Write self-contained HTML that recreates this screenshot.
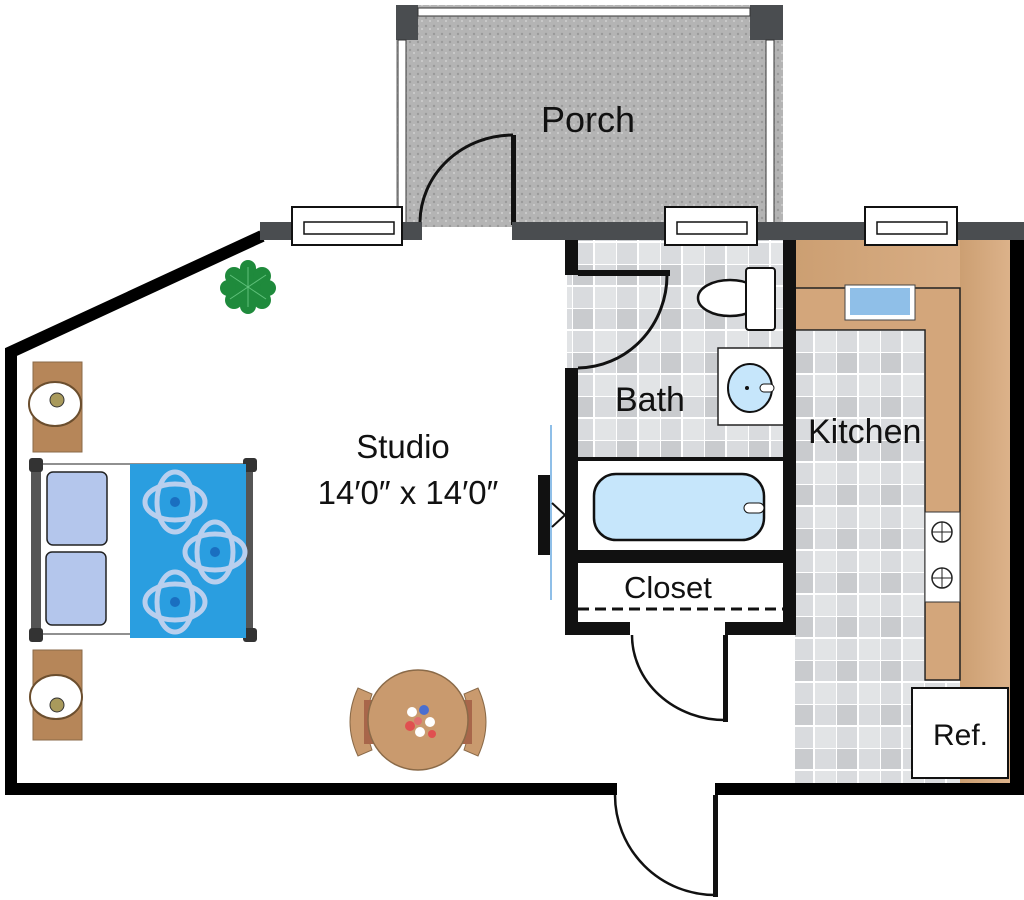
<!DOCTYPE html>
<html><head><meta charset="utf-8"><style>
html,body{margin:0;padding:0;background:#fff;}
svg{display:block;}
text{font-family:"Liberation Sans",sans-serif;fill:#111;}
</style></head><body>
<svg width="1024" height="900" viewBox="0 0 1024 900" xmlns="http://www.w3.org/2000/svg">
<defs>
<pattern id="tile" width="44" height="44" patternUnits="userSpaceOnUse">
<rect width="44" height="44" fill="#d9dbde"/>
<rect x="0" y="0" width="22" height="22" fill="#c9cbce"/>
<rect x="22" y="22" width="22" height="22" fill="#e2e4e6"/>
<path d="M0 0H44M0 22H44M0 0V44M22 0V44" stroke="#fff" stroke-width="2"/>
</pattern>
<pattern id="speck" width="8" height="8" patternUnits="userSpaceOnUse">
<rect width="8" height="8" fill="#b4b4b4"/>
<circle cx="2" cy="2" r="1.2" fill="#9a9a9a"/><circle cx="6" cy="5" r="1" fill="#d0d0d0"/>
</pattern>
<linearGradient id="tan" x1="0" x2="1"><stop offset="0" stop-color="#cc9f72"/><stop offset="1" stop-color="#dcb28a"/></linearGradient>
</defs>

<!-- porch -->
<rect x="396" y="5" width="387" height="222" fill="url(#speck)"/>
<rect x="396" y="5" width="22" height="35" fill="#4a4d50"/>
<rect x="750" y="5" width="33" height="35" fill="#4a4d50"/>
<rect x="418" y="8" width="332" height="8" fill="#fff" stroke="#333" stroke-width="1"/>
<rect x="398" y="40" width="8" height="185" fill="#fff" stroke="#333" stroke-width="1"/>
<rect x="766" y="40" width="8" height="185" fill="#fff" stroke="#333" stroke-width="1"/>
<text x="541" y="132" font-size="36">Porch</text>
<path d="M420 222 A93 88 0 0 1 513 135" fill="none" stroke="#111" stroke-width="3"/>
<rect x="511" y="135" width="5" height="90" fill="#111"/>

<!-- bath floor -->
<rect x="567" y="240" width="220" height="315" fill="url(#tile)"/>
<!-- kitchen floor -->
<rect x="795" y="240" width="215" height="545" fill="url(#tile)"/>
<rect x="795" y="240" width="215" height="48" fill="url(#tan)"/>
<rect x="960" y="240" width="50" height="545" fill="url(#tan)"/>
<rect x="795" y="288" width="165" height="42" fill="#d3a67b"/>
<rect x="925" y="330" width="35" height="350" fill="#d3a67b"/>
<path d="M795 288H960V680H925V330H795" fill="none" stroke="#222" stroke-width="1.5"/>
<rect x="845" y="285" width="70" height="35" fill="#fff" stroke="#444"/>
<rect x="850" y="288" width="60" height="27" fill="#8fbfe8"/>
<rect x="925" y="512" width="35" height="90" fill="#fff" stroke="#333"/>
<circle cx="942" cy="532" r="10" fill="none" stroke="#222" stroke-width="1.5"/>
<circle cx="942" cy="578" r="10" fill="none" stroke="#222" stroke-width="1.5"/>
<path d="M932 532h20M942 522v20M932 578h20M942 568v20" stroke="#222" stroke-width="1"/>
<rect x="912" y="688" width="96" height="90" fill="#fff" stroke="#111" stroke-width="2"/>
<text x="933" y="745" font-size="30">Ref.</text>
<text x="808" y="443" font-size="34">Kitchen</text>

<!-- bath fixtures -->
<ellipse cx="730" cy="298" rx="32" ry="18" fill="#fff" stroke="#111" stroke-width="2.5"/>
<rect x="746" y="268" width="29" height="62" rx="3" fill="#fff" stroke="#111" stroke-width="2"/>
<rect x="718" y="348" width="66" height="77" fill="#fff" stroke="#222" stroke-width="1.5"/>
<ellipse cx="750" cy="388" rx="22" ry="24" fill="#c6e6fb" stroke="#111" stroke-width="2"/>
<circle cx="747" cy="388" r="2" fill="#111"/>
<rect x="760" y="384" width="14" height="8" rx="4" fill="#fff" stroke="#111"/>
<text x="615" y="411" font-size="34">Bath</text>
<rect x="578" y="460" width="209" height="90" fill="#fff"/>
<rect x="594" y="474" width="170" height="66" rx="22" fill="#c6e6fb" stroke="#111" stroke-width="2.5"/>
<rect x="744" y="503" width="20" height="10" rx="5" fill="#fff" stroke="#111"/>
<rect x="565" y="457" width="225" height="4" fill="#111"/>

<!-- closet -->
<rect x="578" y="563" width="209" height="60" fill="#fff"/>
<text x="624" y="598" font-size="31">Closet</text>
<line x1="578" y1="609" x2="787" y2="609" stroke="#111" stroke-width="3" stroke-dasharray="11,6"/>
<rect x="565" y="550" width="230" height="13" fill="#111"/>
<rect x="565" y="622" width="65" height="13" fill="#111"/>
<rect x="725" y="622" width="70" height="13" fill="#111"/>
<path d="M632 635 A93 85 0 0 0 725 720" fill="none" stroke="#111" stroke-width="2.5"/>
<rect x="723" y="635" width="5" height="87" fill="#111"/>

<!-- bath walls -->
<rect x="565" y="240" width="13" height="35" fill="#111"/>
<rect x="565" y="368" width="13" height="267" fill="#111"/>
<rect x="578" y="270" width="92" height="6" fill="#111"/>
<path d="M667 275 A90 93 0 0 1 578 368" fill="none" stroke="#111" stroke-width="3"/>
<rect x="783" y="240" width="13" height="395" fill="#111"/>

<!-- tv / mirror -->
<rect x="538" y="475" width="14" height="80" fill="#111"/>
<line x1="551" y1="425" x2="551" y2="600" stroke="#8fbfe8" stroke-width="2"/>
<path d="M552 503 L565 515 L552 527" fill="none" stroke="#111" stroke-width="2"/>

<!-- outer walls -->
<path d="M11 795 V352 L262 236" fill="none" stroke="#000" stroke-width="12" stroke-linejoin="miter"/>
<rect x="5" y="783" width="612" height="12" fill="#000"/>
<rect x="715" y="783" width="309" height="12" fill="#000"/>
<rect x="1010" y="240" width="14" height="555" fill="#000"/>
<rect x="260" y="222" width="162" height="18" fill="#4a4d50"/>
<rect x="512" y="222" width="512" height="18" fill="#4a4d50"/>
<rect x="292" y="207" width="110" height="38" fill="#fff" stroke="#111" stroke-width="2"/>
<rect x="304" y="222" width="90" height="12" fill="#fff" stroke="#111" stroke-width="1.5"/>
<rect x="665" y="207" width="92" height="38" fill="#fff" stroke="#111" stroke-width="2"/>
<rect x="677" y="222" width="70" height="12" fill="#fff" stroke="#111" stroke-width="1.5"/>
<rect x="865" y="207" width="92" height="38" fill="#fff" stroke="#111" stroke-width="2"/>
<rect x="877" y="222" width="70" height="12" fill="#fff" stroke="#111" stroke-width="1.5"/>

<!-- main door -->
<path d="M615 795 A100 100 0 0 0 715 895" fill="none" stroke="#111" stroke-width="2.5"/>
<rect x="713" y="795" width="5" height="102" fill="#111"/>

<!-- plant -->
<g fill="#1f8a3c">
<circle cx="248" cy="287" r="20"/>
<circle cx="234" cy="276" r="9"/><circle cx="262" cy="276" r="9"/><circle cx="234" cy="300" r="9"/><circle cx="262" cy="300" r="9"/>
<circle cx="248" cy="268" r="8"/><circle cx="248" cy="306" r="8"/><circle cx="228" cy="288" r="8"/><circle cx="268" cy="288" r="8"/>
</g>
<g stroke="#5fc07a" stroke-width="1"><path d="M248 287l-18-12M248 287l18-12M248 287l-18 12M248 287l18 12M248 287v-20M248 287v20"/></g>

<!-- nightstands -->
<rect x="33" y="362" width="49" height="90" fill="#b68659" stroke="#8a6a48"/>
<ellipse cx="55" cy="404" rx="26" ry="22" fill="#fff" stroke="#6b4e2e" stroke-width="2"/>
<circle cx="57" cy="400" r="7" fill="#a99a5c" stroke="#333"/>
<rect x="33" y="650" width="49" height="90" fill="#b68659" stroke="#8a6a48"/>
<ellipse cx="56" cy="697" rx="26" ry="22" fill="#fff" stroke="#6b4e2e" stroke-width="2"/>
<circle cx="57" cy="705" r="7" fill="#a99a5c" stroke="#333"/>

<!-- bed -->
<rect x="40" y="464" width="210" height="170" fill="#fff" stroke="#222"/>
<rect x="31" y="462" width="10" height="176" fill="#555"/>
<rect x="245" y="462" width="8" height="176" fill="#555"/>
<rect x="29" y="458" width="14" height="14" rx="3" fill="#333"/>
<rect x="29" y="628" width="14" height="14" rx="3" fill="#333"/>
<rect x="243" y="458" width="14" height="14" rx="3" fill="#333"/>
<rect x="243" y="628" width="14" height="14" rx="3" fill="#333"/>
<rect x="47" y="472" width="60" height="73" rx="6" fill="#b4c6ec" stroke="#222" stroke-width="1.5"/>
<rect x="46" y="552" width="60" height="73" rx="6" fill="#b4c6ec" stroke="#222" stroke-width="1.5"/>
<rect x="130" y="464" width="116" height="174" fill="#2a9ee0"/>
<g fill="none" stroke="#b9cfee" stroke-width="5">
<ellipse cx="175" cy="502" rx="18" ry="30"/><ellipse cx="175" cy="502" rx="30" ry="18"/>
<ellipse cx="215" cy="552" rx="18" ry="30"/><ellipse cx="215" cy="552" rx="30" ry="18"/>
<ellipse cx="175" cy="602" rx="18" ry="30"/><ellipse cx="175" cy="602" rx="30" ry="18"/>
</g>
<g fill="#1a6fc0"><circle cx="175" cy="502" r="5"/><circle cx="215" cy="552" r="5"/><circle cx="175" cy="602" r="5"/></g>

<!-- table -->
<path d="M358 688 Q342 722 358 756 L372 750 Q362 722 372 694 Z" fill="#c99a6e" stroke="#8a6a48"/>
<path d="M478 688 Q494 722 478 756 L464 750 Q474 722 464 694 Z" fill="#c99a6e" stroke="#8a6a48"/>
<rect x="364" y="700" width="12" height="44" fill="#a8664a"/>
<rect x="460" y="700" width="12" height="44" fill="#a8664a"/>
<circle cx="418" cy="720" r="50" fill="#c99a6e" stroke="#8a6a48" stroke-width="1.5"/>
<g><circle cx="412" cy="712" r="5" fill="#fff"/><circle cx="424" cy="710" r="5" fill="#4a6fd0"/><circle cx="430" cy="722" r="5" fill="#fff"/><circle cx="410" cy="726" r="5" fill="#e05050"/><circle cx="420" cy="732" r="5" fill="#fff"/><circle cx="432" cy="734" r="4" fill="#e05050"/><circle cx="418" cy="721" r="4" fill="#e07070"/></g>

<!-- labels -->
<text x="403" y="458" font-size="33" text-anchor="middle">Studio</text>
<text x="408" y="504" font-size="33" text-anchor="middle">14′0″ x 14′0″</text>
</svg>
</body></html>
